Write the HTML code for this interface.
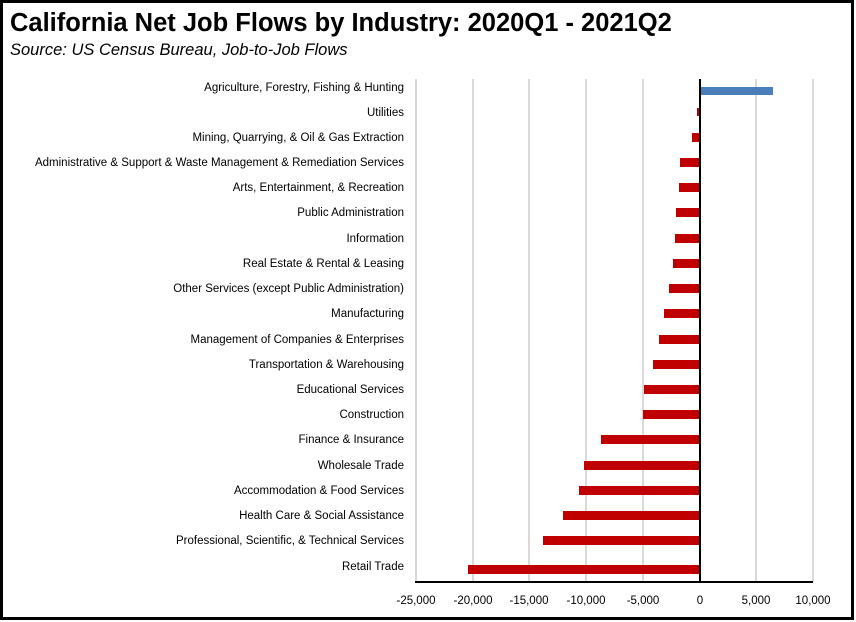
<!DOCTYPE html>
<html><head><meta charset="utf-8"><style>
html,body{margin:0;padding:0;background:#fff}
svg{display:block}
text{font-family:"Liberation Sans",sans-serif}
</style></head><body>
<svg width="856" height="622" viewBox="0 0 856 622" xmlns="http://www.w3.org/2000/svg">
<rect x="1.5" y="1.5" width="851" height="617" fill="#fff" stroke="#000" stroke-width="3"/>
<text x="10" y="31" font-size="25.5" font-weight="bold" fill="#000">California Net Job Flows by Industry:  2020Q1 - 2021Q2</text>
<text x="10" y="55" font-size="16.5" font-style="italic" fill="#000">Source:  US Census Bureau, Job-to-Job Flows</text>
<g stroke="#d9d9d9" stroke-width="2">
<line x1="473" y1="79" x2="473" y2="582"/><line x1="529" y1="79" x2="529" y2="582"/>
<line x1="586" y1="79" x2="586" y2="582"/><line x1="643" y1="79" x2="643" y2="582"/>
<line x1="756" y1="79" x2="756" y2="582"/><line x1="813" y1="79" x2="813" y2="582"/>
<line x1="416" y1="79" x2="416" y2="582"/>
</g>
<g fill="#c00000">
<rect x="697" y="108" width="3" height="8"/>
<rect x="692" y="133" width="8" height="9"/>
<rect x="680" y="158" width="20" height="9"/>
<rect x="679" y="183" width="21" height="9"/>
<rect x="676" y="208" width="24" height="9"/>
<rect x="675" y="234" width="25" height="9"/>
<rect x="673" y="259" width="27" height="9"/>
<rect x="669" y="284" width="31" height="9"/>
<rect x="664" y="309" width="36" height="9"/>
<rect x="659" y="335" width="41" height="9"/>
<rect x="653" y="360" width="47" height="9"/>
<rect x="644" y="385" width="56" height="9"/>
<rect x="643" y="410" width="57" height="9"/>
<rect x="601" y="435" width="99" height="9"/>
<rect x="584" y="461" width="116" height="9"/>
<rect x="579" y="486" width="121" height="9"/>
<rect x="563" y="511" width="137" height="9"/>
<rect x="543" y="536" width="157" height="9"/>
<rect x="468" y="565" width="232" height="9"/>
</g>
<rect x="700" y="87" width="73" height="8" fill="#4a7ebb"/>
<line x1="700" y1="79" x2="700" y2="583" stroke="#000" stroke-width="2"/>
<line x1="415" y1="582" x2="813" y2="582" stroke="#000" stroke-width="2"/>
<g font-size="11.5" text-anchor="end" fill="#000">
<text x="404" y="91">Agriculture, Forestry, Fishing &amp; Hunting</text>
<text x="404" y="116">Utilities</text>
<text x="404" y="141">Mining, Quarrying, &amp; Oil &amp; Gas Extraction</text>
<text x="404" y="166">Administrative &amp; Support &amp; Waste Management &amp; Remediation Services</text>
<text x="404" y="191">Arts, Entertainment, &amp; Recreation</text>
<text x="404" y="216">Public Administration</text>
<text x="404" y="242">Information</text>
<text x="404" y="267">Real Estate &amp; Rental &amp; Leasing</text>
<text x="404" y="292">Other Services (except Public Administration)</text>
<text x="404" y="317">Manufacturing</text>
<text x="404" y="343">Management of Companies &amp; Enterprises</text>
<text x="404" y="368">Transportation &amp; Warehousing</text>
<text x="404" y="393">Educational Services</text>
<text x="404" y="418">Construction</text>
<text x="404" y="443">Finance &amp; Insurance</text>
<text x="404" y="469">Wholesale Trade</text>
<text x="404" y="494">Accommodation &amp; Food Services</text>
<text x="404" y="519">Health Care &amp; Social Assistance</text>
<text x="404" y="544">Professional, Scientific, &amp; Technical Services</text>
<text x="404" y="570">Retail Trade</text>
</g>
<g font-size="11.5" text-anchor="middle" fill="#000">
<text x="416" y="604">-25,000</text><text x="473" y="604">-20,000</text>
<text x="529" y="604">-15,000</text><text x="586" y="604">-10,000</text>
<text x="643" y="604">-5,000</text><text x="700" y="604">0</text>
<text x="756" y="604">5,000</text><text x="813" y="604">10,000</text>
</g>
</svg>
</body></html>
